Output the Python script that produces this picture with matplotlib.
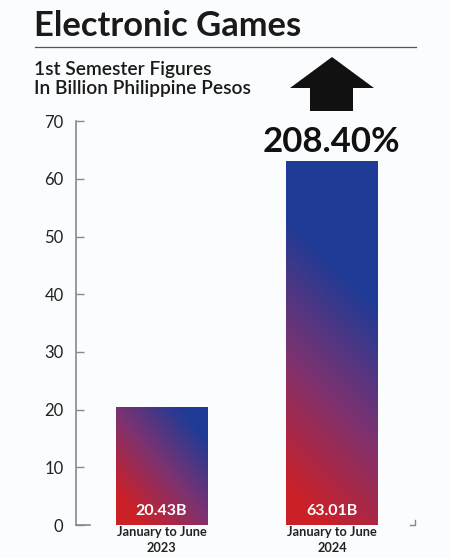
import numpy as np
import matplotlib
matplotlib.use("Agg")
import matplotlib.pyplot as plt
from matplotlib.colors import LinearSegmentedColormap
from matplotlib.patches import Polygon
from matplotlib.lines import Line2D

# data
categories = ["January to June\n2023", "January to June\n2024"]
values = [20.43, 63.01]
value_labels = ["20.43B", "63.01B"]
change_label = "208.40%"
yticks = [0, 10, 20, 30, 40, 50, 60, 70]

plt.rcParams['font.family'] = ['Lato', 'DejaVu Sans']

bg = "#fbfcfd"
fig = plt.figure(figsize=(4.5, 5.58), dpi=100, facecolor=bg)
ax = fig.add_axes([0.169, 0.059, 0.753, 0.724], facecolor=bg)

cmap = LinearSegmentedColormap.from_list("rb", ["#cc2027", "#7d3270", "#1f3b96"])

x = np.arange(len(values))
bw = 0.537
bars = ax.bar(x, values, width=bw, color="none", edgecolor="none", zorder=2)

# gradient fill clipped to each bar
n = 200
xs = np.linspace(0, 1, n)
ys = np.linspace(0, 1, n)
XN, YN = np.meshgrid(xs, ys)
grad_params = [(0.5, 0.55, -0.15, 0.75), (0.25, 1.0, -0.1, 0.75)]
for b, (a, c, off, span) in zip(bars, grad_params):
    t = np.clip((a * XN + c * YN + off) / span, 0, 1)
    x0, y0 = b.get_x(), b.get_y()
    im = ax.imshow(t, cmap=cmap, origin="lower", aspect="auto",
                   extent=[x0, x0 + b.get_width(), y0, y0 + b.get_height()],
                   zorder=2, interpolation="bilinear")
    im.set_clip_path(b)

for xi, lab in zip(x, value_labels):
    ax.text(xi, 1.2, lab, ha="center", va="bottom", color="white",
            fontsize=11.5, fontweight="bold", zorder=3)

ax.set_xlim(-0.501, 1.487)
ax.set_ylim(0, 70)
ax.set_yticks(yticks)
ax.set_xticks(x)
ax.set_xticklabels(categories, fontsize=9.2, fontweight="bold", color="#222222",
                   linespacing=1.35)
ax.tick_params(axis="x", length=0, pad=1)
ax.tick_params(axis="y", direction="in", length=6, width=1, color="#888888",
               labelsize=12, labelcolor="#222222", pad=9)
for s in ["top", "right", "bottom"]:
    ax.spines[s].set_visible(False)
ax.spines["left"].set_color("#888888")
ax.spines["left"].set_linewidth(1.2)

# short baseline stubs
ax.add_line(Line2D([0, 0.04], [0, 0], transform=ax.transAxes, color="#888888",
                   lw=1.2, clip_on=False))
ax.add_line(Line2D([0.985, 1.0, 1.0], [0.0, 0.0, 0.012], transform=ax.transAxes,
                   color="#888888", lw=1.0, clip_on=False))

# title block
fig.text(0.075, 0.953, "Electronic Games", fontsize=24.8, fontweight="bold",
         color="#1a1a1a", va="center")
fig.add_artist(Line2D([0.078, 0.925], [0.916, 0.916], color="#555555", lw=0.9))
fig.text(0.076, 0.858, "1st Semester Figures\nIn Billion Philippine Pesos",
         fontsize=13.8, fontweight="semibold", color="#1a1a1a", va="center",
         linespacing=1.15)

# up arrow
W, H = 450.0, 558.0
pts = [(332, 57), (374, 88), (353, 88), (353, 111), (310, 111), (310, 88), (290, 88)]
arrow = Polygon([(px / W, 1 - py / H) for px, py in pts], closed=True,
                transform=fig.transFigure, facecolor="#111111", edgecolor="none")
fig.add_artist(arrow)

ax.text(x[1], values[1] + 0.6, change_label, ha="center", va="bottom", fontsize=25,
        fontweight="bold", color="#111111")

fig.savefig("out.png", dpi=100, facecolor=bg)
